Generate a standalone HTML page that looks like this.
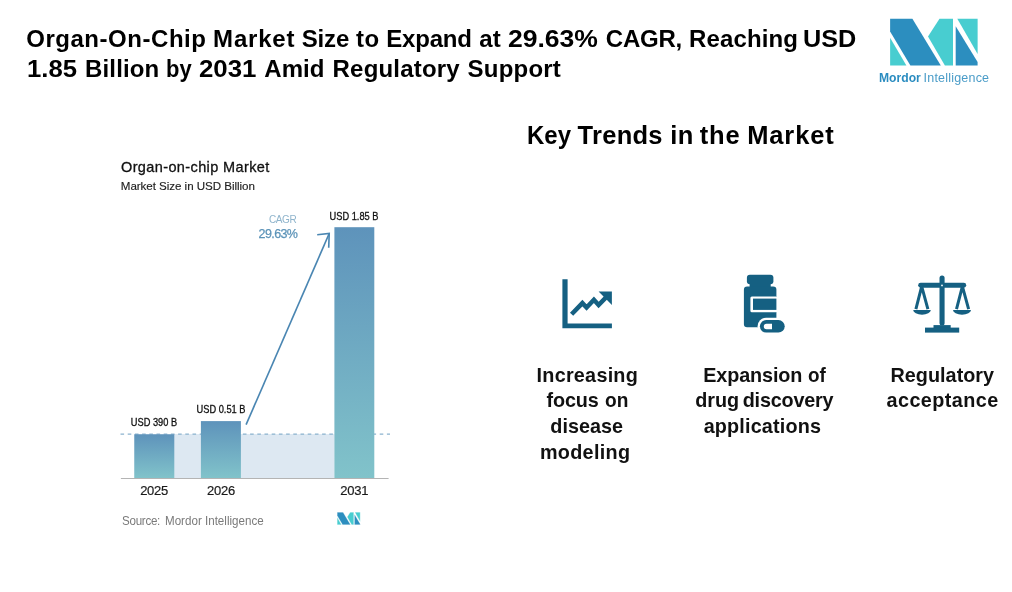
<!DOCTYPE html>
<html lang="en">
<head>
<meta charset="utf-8">
<title>Organ-On-Chip Market</title>
<style>
html,body{margin:0;padding:0;background:#fff;}
body{width:1012px;height:592px;position:relative;overflow:hidden;font-family:"Liberation Sans",sans-serif;color:#000;}
.tl{position:absolute;left:0;width:1012px;height:30px;font-size:24px;font-weight:bold;line-height:30px;color:#000;white-space:nowrap;}
.tl span{position:absolute;top:0;transform-origin:0 0;}
.t1{top:23.5px;}
.t2{top:53.5px;}
.kl{position:absolute;left:0;width:1012px;height:30px;font-size:25.5px;font-weight:bold;line-height:30px;color:#000;white-space:nowrap;}
.kl span,.tr span{position:absolute;top:0;transform-origin:0 0;}
.tr{position:absolute;left:0;width:1012px;height:26px;font-size:19.8px;font-weight:bold;line-height:26px;color:#111;white-space:nowrap;}
.ct{position:absolute;white-space:nowrap;font-family:"Liberation Sans",sans-serif;}
svg{position:absolute;left:0;top:0;}
.lab{text-align:center;font-size:10.2px;line-height:12px;letter-spacing:0;color:#111;-webkit-text-stroke:0.3px #111;transform:scaleX(0.908);transform-origin:50% 0;}
.src{top:513.6px;font-size:12.6px;line-height:15px;color:#7a7a7a;transform:scaleX(0.921);transform-origin:0 0;}
.yr{width:60px;text-align:center;top:483.2px;font-size:13px;line-height:16px;letter-spacing:-0.25px;color:#1a1a1a;-webkit-text-stroke:0.2px #1a1a1a;}
</style>
</head>
<body>
<div class="tl t1"><span style="left:26.2px;letter-spacing:0.54px">Organ-On-Chip</span> <span style="left:213.1px;letter-spacing:0.79px">Market</span> <span style="left:301.7px;letter-spacing:-0.12px">Size</span> <span style="left:356.0px;letter-spacing:0.51px">to</span> <span style="left:386.3px;letter-spacing:-0.20px">Expand</span> <span style="left:479.2px;letter-spacing:0.25px">at</span> <span style="left:507.9px;transform:scaleX(1.105)">29.63%</span> <span style="left:605.8px;letter-spacing:-0.22px">CAGR,</span> <span style="left:689.1px;letter-spacing:0.13px">Reaching</span> <span style="left:803.2px;transform:scaleX(1.052)">USD</span></div>
<div class="tl t2"><span style="left:26.9px;transform:scaleX(1.069)">1.85</span> <span style="left:85.0px;letter-spacing:0.16px">Billion</span> <span style="left:165.9px;transform:scaleX(0.915)">by</span> <span style="left:199.3px;transform:scaleX(1.076)">2031</span> <span style="left:264.3px;letter-spacing:0.05px">Amid</span> <span style="left:332.6px;letter-spacing:0.19px">Regulatory</span> <span style="left:467.5px;letter-spacing:0.23px">Support</span></div>
<div class="kl" style="top:120px"><span style="left:527.4px;transform:scaleX(0.940)">Key</span> <span style="left:577.6px;letter-spacing:0.27px">Trends</span> <span style="left:670.2px;letter-spacing:0.41px">in</span> <span style="left:699.7px;letter-spacing:0.82px">the</span> <span style="left:747.2px;letter-spacing:0.88px">Market</span></div>
<div class="tr" style="top:362.3px"><span style="left:536.6px;letter-spacing:0.25px">Increasing</span></div>
<div class="tr" style="top:387.0px"><span style="left:546.4px;letter-spacing:-0.09px">focus</span> <span style="left:604.7px;transform:scaleX(0.966)">on</span></div>
<div class="tr" style="top:412.8px"><span style="left:550.3px;letter-spacing:0.04px">disease</span></div>
<div class="tr" style="top:438.5px"><span style="left:539.9px;letter-spacing:0.32px">modeling</span></div>
<div class="tr" style="top:362.3px"><span style="left:703.3px;letter-spacing:-0.13px">Expansion</span> <span style="left:807.5px;transform:scaleX(0.954)">of</span></div>
<div class="tr" style="top:387.0px"><span style="left:695.3px;letter-spacing:-0.06px">drug</span> <span style="left:742.7px;letter-spacing:-0.18px">discovery</span></div>
<div class="tr" style="top:412.8px"><span style="left:703.7px;letter-spacing:0.17px">applications</span></div>
<div class="tr" style="top:362.3px"><span style="left:890.5px;letter-spacing:0.03px">Regulatory</span></div>
<div class="tr" style="top:387.0px"><span style="left:886.5px;letter-spacing:0.44px">acceptance</span></div>

<svg id="gfx" width="1012" height="592" viewBox="0 0 1012 592">
<defs>
<linearGradient id="bg" x1="0" y1="0" x2="0" y2="1">
<stop offset="0" stop-color="#5e93bb"/><stop offset="1" stop-color="#81c3ca"/>
</linearGradient>
</defs>
<!-- chart -->
<rect x="134.3" y="434" width="200.2" height="44.2" fill="#dde8f2"/>
<line x1="120.5" y1="434.1" x2="390" y2="434.1" stroke="#86aecb" stroke-width="1.2" stroke-dasharray="3.6 3.6" stroke-opacity="0.95"/>
<rect x="134.3" y="434.3" width="40" height="43.9" fill="url(#bg)"/>
<rect x="200.9" y="421.1" width="40" height="57.1" fill="url(#bg)"/>
<rect x="334.4" y="227.2" width="39.9" height="251" fill="url(#bg)"/>
<line x1="120.9" y1="478.5" x2="388.6" y2="478.5" stroke="#b4b4b4" stroke-width="1.1"/>
<!-- arrow -->
<line x1="246.1" y1="424.7" x2="329" y2="234" stroke="#4a86b2" stroke-width="1.65"/>
<polyline points="317.2,234.7 329.2,233.5 328.7,247.7" fill="none" stroke="#4a86b2" stroke-width="1.65" stroke-linejoin="miter"/>
<!-- main logo -->
<g id="logo">
<polygon points="890.1,18.8 912.4,18.8 940.8,65.4 910.4,65.4 890.1,31.6" fill="#2c8ebf"/>
<polygon points="890.1,37.7 890.1,65.4 906.4,65.4" fill="#48cdd0"/>
<polygon points="939.5,18.8 953,18.8 953,65.4 944.9,65.4 928,36.4" fill="#48cdd0"/>
<polygon points="957.3,18.8 977.6,18.8 977.6,53.9" fill="#48cdd0"/>
<polygon points="955.7,26.2 977.6,62 977.6,65.4 955.7,65.4" fill="#2c8ebf"/>
</g>
<!-- small logo: scaled copy -->
<g transform="translate(337.2,512.2) scale(0.2629,0.2704) translate(-890.1,-18.8)" stroke="#fff" stroke-width="1.1">
<polygon points="890.1,18.8 912.4,18.8 940.8,65.4 910.4,65.4 890.1,31.6" fill="#2c8ebf"/>
<polygon points="890.1,37.7 890.1,65.4 906.4,65.4" fill="#48cdd0"/>
<polygon points="939.5,18.8 953,18.8 953,65.4 944.9,65.4 928,36.4" fill="#48cdd0"/>
<polygon points="957.3,18.8 977.6,18.8 977.6,53.9" fill="#48cdd0"/>
<polygon points="955.7,26.2 977.6,62 977.6,65.4 955.7,65.4" fill="#2c8ebf"/>
</g>
<!-- icon 1: chart -->
<g fill="#156082" stroke="none">
<path d="M562.4,279.2 h5.2 v44.2 h44.3 v4.8 h-49.5 z"/>
<polygon points="598.6,291.4 611.9,291.4 611.9,304.9"/>
</g>
<polyline points="571.6,314.3 582.4,303.1 586.6,307.5 593.9,299.8 598.6,305.0 607,296.4" fill="none" stroke="#156082" stroke-width="4.5" stroke-linejoin="miter"/>
<!-- icon 2: bottle -->
<g fill="#156082">
<rect x="746.9" y="274.7" width="26.5" height="9.6" rx="3"/>
<rect x="749.6" y="282" width="21.1" height="6"/>
<rect x="743.9" y="286.6" width="32.5" height="40.6" rx="3.2"/>
<rect x="750.4" y="296.4" width="27" height="15.9" fill="#fff" rx="1.5"/>
<rect x="753" y="298.6" width="23.4" height="11.3"/>
<rect x="757.6" y="317.8" width="29.4" height="17" rx="8.5" fill="#fff"/>
<rect x="759.9" y="320.1" width="24.8" height="12.5" rx="6.25"/>
<path d="M766.5,323.8 H772 V329.2 H766.5 A2.7,2.7 0 0 1 766.5,323.8 Z" fill="#fff"/>
</g>
<!-- icon 3: scales -->
<g fill="#156082">
<rect x="939.5" y="275.5" width="5.1" height="50" rx="2.5"/>
<rect x="918.2" y="282.8" width="48" height="4.9" rx="2.4"/>
<rect x="933.5" y="325.1" width="17.2" height="4"/>
<rect x="925" y="327.6" width="34.2" height="5"/>
<path d="M913.2,309.9 H930.8 A8.8,4.8 0 0 1 913.2,309.9 Z"/>
<path d="M953,309.9 H971 A9,4.8 0 0 1 953,309.9 Z"/>
<circle cx="942" cy="285.4" r="0.9" fill="#fff"/>
</g>
<g fill="none" stroke="#156082" stroke-width="3" stroke-linejoin="round" stroke-linecap="butt">
<polyline points="915.9,309.2 921.7,286.4 927.9,309.2"/>
<polyline points="956.5,309.2 962.4,286.4 968.6,309.2"/>
</g>
</svg>

<div class="ct" id="c1" style="left:121px;top:158.8px;font-size:14.5px;line-height:17px;letter-spacing:0.38px;color:#111;-webkit-text-stroke:0.3px #111;">Organ-on-chip Market</div>
<div class="ct" id="c2" style="left:120.8px;top:178.5px;font-size:11.6px;line-height:14px;letter-spacing:-0.05px;color:#222;-webkit-text-stroke:0.15px #222;">Market Size in USD Billion</div>
<div class="ct" id="c3" style="left:236px;width:60.3px;text-align:right;top:212.5px;font-size:10.8px;line-height:13px;letter-spacing:-0.45px;color:#8fb4cc;transform:scaleX(0.93);transform-origin:100% 0;">CAGR</div>
<div class="ct" id="c4" style="left:236px;width:61.4px;text-align:right;top:227px;font-size:12.5px;line-height:15px;letter-spacing:-0.6px;color:#5b93b8;-webkit-text-stroke:0.25px #5b93b8;">29.63%</div>
<div class="ct lab" id="c5" style="left:314.4px;width:80px;top:211.3px;">USD 1.85 B</div>
<div class="ct lab" id="c6" style="left:113.9px;width:80px;top:417.3px;">USD 390 B</div>
<div class="ct lab" id="c7" style="left:180.8px;width:80px;top:404.3px;">USD 0.51 B</div>
<div class="ct yr" id="c8" style="left:124.1px;">2025</div>
<div class="ct yr" id="c9" style="left:191px;">2026</div>
<div class="ct yr" id="c10" style="left:324.3px;">2031</div>
<div class="ct src" id="c11" style="left:122.4px;letter-spacing:-0.3px;">Source:</div>
<div class="ct src" id="c11b" style="left:164.8px;">Mordor Intelligence</div>
<div class="ct" id="c12" style="left:879.3px;top:71.3px;font-size:12.5px;line-height:14px;font-weight:bold;color:#2a8cc0;transform:scaleX(0.97);transform-origin:0 0;">Mordor</div>
<div class="ct" id="c12b" style="left:923.6px;top:71.3px;font-size:12.5px;line-height:14px;color:#4a9cc8;letter-spacing:0.2px;">Intelligence</div>
</body>
</html>
